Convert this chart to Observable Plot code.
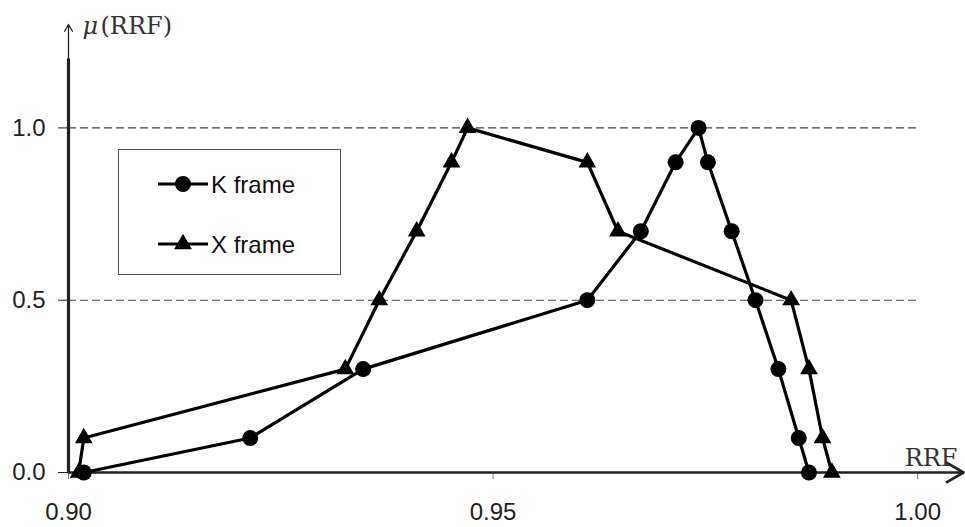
<!DOCTYPE html>
<html><head><meta charset="utf-8">
<script src="https://cdn.jsdelivr.net/npm/d3@7"></script>
<script src="https://cdn.jsdelivr.net/npm/@observablehq/plot@0.6"></script>
<style>
body{margin:0;background:#fff}
#wrap{position:relative;width:965px;height:527px}
#legend{position:absolute;left:118px;top:149px;width:221px;height:124px;border:1px solid #555;background:#fff}
</style></head><body><div id="wrap"></div>
<script>
// data
const seriesNames = ["K frame", "X frame"];
const kX = [0.9018, 0.9214, 0.9347, 0.9611, 0.9674, 0.9715, 0.9742, 0.9753, 0.9781, 0.9809, 0.9836, 0.9860, 0.9872];
const kY = [0.0, 0.1, 0.3, 0.5, 0.7, 0.9, 1.0, 0.9, 0.7, 0.5, 0.3, 0.1, 0.0];
const xX = [0.9012, 0.9018, 0.9326, 0.9366, 0.9410, 0.9451, 0.9470, 0.9611, 0.9647, 0.9851, 0.9872, 0.9888, 0.9899];
const xY = [0.0, 0.1, 0.3, 0.5, 0.7, 0.9, 1.0, 0.9, 0.7, 0.5, 0.3, 0.1, 0.0];
const xTicks = [0.90, 0.95, 1.00];
const yTicks = [0.0, 0.5, 1.0];
const gridLevels = [0.5, 1.0];
const xLabel = "RRF";
const yLabelMu = "μ";
const yLabelRest = "(RRF)";

const kData = kX.map((x, i) => ({series: seriesNames[0], x, y: kY[i]}));
const xData = xX.map((x, i) => ({series: seriesNames[1], x, y: xY[i]}));
const all = kData.concat(xData);

const xMin = 0.90, xMax = 1.0054, yMin = 0, yMax = 1.3, yThickTop = 1.2;

const sans = "'Liberation Sans', Arial, sans-serif";
const serif = "'DejaVu Serif', serif";

const chart = Plot.plot({
  width: 965, height: 527,
  marginLeft: 68, marginRight: 2, marginTop: 24, marginBottom: 55,
  style: {fontFamily: sans, fontSize: "24px", color: "#222", background: "#fff"},
  x: {domain: [xMin, xMax]},
  y: {domain: [yMin, yMax]},
  marks: [
    Plot.ruleY(gridLevels, {x1: xMin, x2: 1.0, stroke: "#444", strokeWidth: 1.1, strokeDasharray: "8,4"}),
    Plot.axisX({ticks: xTicks, tickFormat: d3.format(".2f"), tickSize: 7, tickPadding: 23, stroke: "#777", fill: "#222", fontSize: 24, label: null}),
    Plot.axisY({ticks: yTicks, tickFormat: d3.format(".1f"), tickSize: 10, tickPadding: 13, stroke: "#222", fill: "#222", fontSize: 24, label: null}),
    // y axis: thick shaft then thin arrow
    Plot.ruleX([xMin], {y1: yMin, y2: yThickTop, stroke: "#222", strokeWidth: 3.2}),
    Plot.arrow([0], {x1: xMin, x2: xMin, y1: yThickTop, y2: yMax, stroke: "#222", strokeWidth: 1.3, headLength: 9}),
    // x axis arrow
    Plot.arrow([0], {x1: xMin, x2: xMax, y1: yMin, y2: yMin, stroke: "#222", strokeWidth: 2.6, headLength: 11}),
    Plot.line(all, {x: "x", y: "y", z: "series", stroke: "#000", strokeWidth: 3.2}),
    Plot.dot(kData, {x: "x", y: "y", r: 8, fill: "#000"}),
    Plot.dot(xData, {x: "x", y: "y", r: 6.6, symbol: "triangle", fill: "#000"}),
    Plot.text([yLabelMu], {frameAnchor: "top-left", dx: 14, dy: 2, textAnchor: "start", lineAnchor: "middle", fontFamily: serif, fontStyle: "italic", fontSize: 24, fill: "#333"}),
    Plot.text([yLabelRest], {frameAnchor: "top-left", dx: 32, dy: 2, textAnchor: "start", lineAnchor: "middle", fontFamily: serif, fontSize: 24, fill: "#333"}),
    Plot.text([xLabel], {frameAnchor: "bottom-right", dx: -6, dy: -7, textAnchor: "end", lineAnchor: "bottom", fontFamily: serif, fontSize: 24, fill: "#333"})
  ]
});
const wrap = document.getElementById("wrap");
wrap.appendChild(chart);

// legend overlay
const leg = document.createElement("div");
leg.id = "legend";
const ns = "http://www.w3.org/2000/svg";
const svg = document.createElementNS(ns, "svg");
svg.setAttribute("width", 221); svg.setAttribute("height", 124);
const rows = [34, 94];
seriesNames.forEach((name, i) => {
  const yy = rows[i];
  const ln = document.createElementNS(ns, "line");
  ln.setAttribute("x1", 39); ln.setAttribute("x2", 89);
  ln.setAttribute("y1", yy); ln.setAttribute("y2", yy);
  ln.setAttribute("stroke", "#000"); ln.setAttribute("stroke-width", 3.2);
  svg.appendChild(ln);
  const sym = document.createElementNS(ns, "path");
  sym.setAttribute("d", d3.symbol(i === 0 ? d3.symbolCircle : d3.symbolTriangle, i === 0 ? Math.PI * 64 : Math.PI * 6.6 * 6.6)());
  sym.setAttribute("transform", `translate(64,${yy})`);
  sym.setAttribute("fill", "#000");
  svg.appendChild(sym);
  const t = document.createElementNS(ns, "text");
  t.setAttribute("x", 92); t.setAttribute("y", yy + 9);
  t.setAttribute("font-family", sans); t.setAttribute("font-size", 24);
  t.setAttribute("fill", "#111");
  t.textContent = name;
  svg.appendChild(t);
});
leg.appendChild(svg);
wrap.appendChild(leg);
</script></body></html>
